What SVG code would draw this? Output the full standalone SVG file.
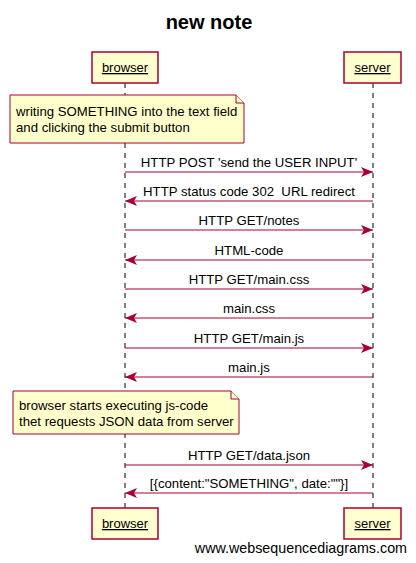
<svg xmlns="http://www.w3.org/2000/svg" width="416" height="563" viewBox="0 0 416 563">
<style>
text{font-family:"Liberation Sans",Arial,sans-serif;fill:#000}
.actor{fill:#FEFECE;stroke:#A80036;stroke-width:1.5}
.an{font-size:13px;text-anchor:middle;text-decoration:underline}
.life{stroke:#000;stroke-width:1;stroke-dasharray:5,5}
.msg{stroke:#A80036;stroke-width:1}
.ml{font-size:13.2px;text-anchor:middle;white-space:pre}
.note{fill:#FFFFCC;stroke:#A80036;stroke-width:1}
.nt{font-size:13.2px}
</style>
<defs>
<marker id="ah" markerWidth="12" markerHeight="10" refX="12" refY="5" orient="auto" markerUnits="userSpaceOnUse">
<path d="M0,0 L12,5 L0,10 L3,5 Z" fill="#A80036"/>
</marker>
</defs>
<rect width="416" height="563" fill="#fff"/>
<text x="209" y="29" font-size="20" font-weight="bold" text-anchor="middle">new note</text>
<g id="lifelines">
<line class="life" x1="125" y1="83" x2="125" y2="508"/>
<line class="life" x1="373" y1="83" x2="373" y2="508"/>
</g>
<g id="browser">
<rect class="actor" x="92" y="52" width="66" height="31"/>
<text class="an" x="125" y="72">browser</text>
</g>
<g id="server">
<rect class="actor" x="344" y="52" width="57" height="31"/>
<text class="an" x="372.5" y="72">server</text>
</g>
<g id="browser-bottom">
<rect class="actor" x="92" y="508" width="66" height="31"/>
<text class="an" x="125" y="528">browser</text>
</g>
<g id="server-bottom">
<rect class="actor" x="344" y="508" width="57" height="31"/>
<text class="an" x="372.5" y="528">server</text>
</g>
<g id="note1">
<path class="note" d="M10,95 H236 L244,103 V143 H10 Z"/>
<path class="note" d="M236,95 V103 H244" fill="none"/>
<text class="nt" x="16" y="116">writing SOMETHING into the text field</text>
<text class="nt" x="16" y="132">and clicking the submit button</text>
</g>
<g id="note2">
<path class="note" d="M13,391 H231 L239,399 V434 H13 Z"/>
<path class="note" d="M231,391 V399 H239" fill="none"/>
<text class="nt" x="19" y="410">browser starts executing js-code</text>
<text class="nt" x="19" y="426">thet requests JSON data from server</text>
</g>
<g id="connectors">
<line class="msg" x1="125" y1="172" x2="373" y2="172" marker-end="url(#ah)"/>
<text class="ml" x="249" y="167">HTTP POST 'send the USER INPUT'</text>
<line class="msg" x1="373" y1="201" x2="125" y2="201" marker-end="url(#ah)"/>
<text class="ml" x="249" y="196" xml:space="preserve">HTTP status code 302  URL redirect</text>
<line class="msg" x1="125" y1="230" x2="373" y2="230" marker-end="url(#ah)"/>
<text class="ml" x="249" y="225">HTTP GET/notes</text>
<line class="msg" x1="373" y1="260" x2="125" y2="260" marker-end="url(#ah)"/>
<text class="ml" x="249" y="255">HTML-code</text>
<line class="msg" x1="125" y1="289" x2="373" y2="289" marker-end="url(#ah)"/>
<text class="ml" x="249" y="284">HTTP GET/main.css</text>
<line class="msg" x1="373" y1="318" x2="125" y2="318" marker-end="url(#ah)"/>
<text class="ml" x="249" y="313">main.css</text>
<line class="msg" x1="125" y1="348" x2="373" y2="348" marker-end="url(#ah)"/>
<text class="ml" x="249" y="343">HTTP GET/main.js</text>
<line class="msg" x1="373" y1="377" x2="125" y2="377" marker-end="url(#ah)"/>
<text class="ml" x="249" y="372">main.js</text>
<line class="msg" x1="125" y1="465" x2="373" y2="465" marker-end="url(#ah)"/>
<text class="ml" x="249" y="460">HTTP GET/data.json</text>
<line class="msg" x1="373" y1="493" x2="125" y2="493" marker-end="url(#ah)"/>
<text class="ml" x="249" y="488">[{content:"SOMETHING", date:""}]</text>
</g>
<text x="407" y="553" font-size="14.3" text-anchor="end">www.websequencediagrams.com</text>
</svg>
